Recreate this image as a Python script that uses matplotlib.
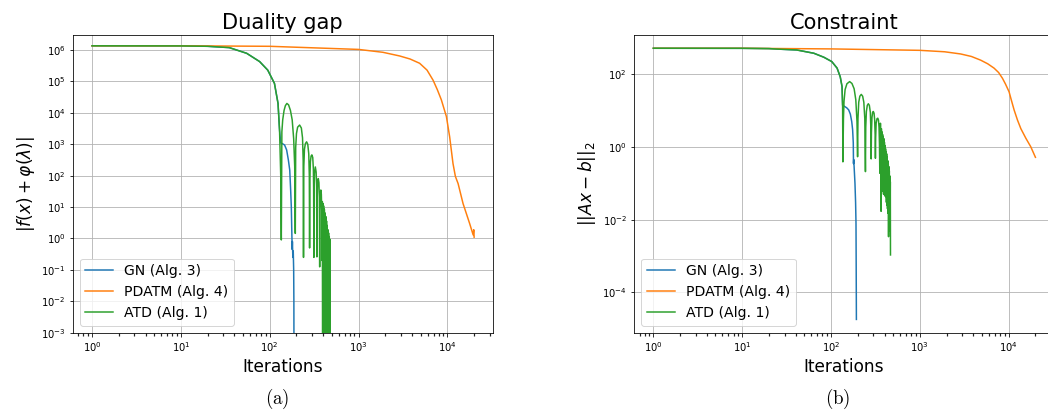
import numpy as np
import matplotlib.pyplot as plt
from matplotlib.ticker import LogLocator, NullLocator, FixedLocator

labels = ['GN (Alg. 3)', 'PDATM (Alg. 4)', 'ATD (Alg. 1)']
colors = ['#1f77b4', '#ff7f0e', '#2ca02c']

# ---- duality gap (left) ----
gn_gap_it = [1, 10, 20, 35, 55, 77, 95, 113, 124, 129, 133, 137, 147, 155, 162, 168,
             172, 175, 178, 179, 180, 182, 184, 186, 187, 188]
gn_gap = [1.37e6, 1.36e6, 1.32e6, 1.2e6, 7.9e5, 4.3e5, 2.3e5, 8.7e4, 2.0e4, 2.8e3, 1.1e3,
          1.07e3, 9.5e2, 6.6e2, 3.2e2, 1.5e2, 35, 10, 0.9, 0.45, 0.8, 0.25, 0.4, 0.1, 1e-2, 1e-6]

pd_gap_it = [1, 10, 100, 1000, 1880, 2900, 3800, 4870, 5900, 6900, 7700, 8550, 9750, 10600,
             11560, 12300, 13200, 15000, 17800, 19500, 19800, 20000]
pd_gap = [1.37e6, 1.37e6, 1.32e6, 1.05e6, 8.5e5, 6.5e5, 5.2e5, 3.8e5, 2.3e5, 1.1e5, 5.5e4,
          2.6e4, 7.6e3, 1.74e3, 2.45e2, 95, 56, 13, 3.0, 1.3, 1.9, 1.1]

atd_gap_it = [1, 10, 20, 35, 55, 77, 95, 113, 124, 129, 133, 135,
              137, 140, 145, 150, 156, 163, 171, 179, 186, 191, 194,
              196, 200, 206, 217, 227, 234, 238, 240,
              242, 246, 252, 260, 268, 275, 279, 281,
              283, 287, 292, 298, 305, 310, 312, 314,
              316, 319, 326, 333, 337, 340,
              342, 346, 352, 358, 362, 365,
              367, 371, 376, 381, 385, 388,
              391, 394, 397, 400, 404, 408, 412, 416, 420, 424, 428, 432, 436, 440,
              444, 448, 452, 456, 460, 464, 468, 472, 475, 478]
atd_gap = [1.37e6, 1.36e6, 1.32e6, 1.2e6, 7.9e5, 4.3e5, 2.3e5, 8.7e4, 2.0e4, 2.8e3, 1.0e2, 0.9,
           2.5e3, 6e3, 1.2e4, 1.7e4, 2.0e4, 1.8e4, 1.2e4, 6e3, 1.5e3, 2e2, 1.45,
           8e2, 2.2e3, 3.5e3, 4.1e3, 3.3e3, 1.6e3, 3e2, 0.25,
           2e2, 7e2, 1.05e3, 1.2e3, 1.0e3, 5e2, 1e2, 0.5,
           80, 2.8e2, 4.2e2, 4.6e2, 3.8e2, 1.6e2, 40, 0.25,
           35, 1.2e2, 1.9e2, 1.3e2, 45, 0.26,
           18, 60, 81, 60, 20, 0.125,
           8, 26, 35, 26, 8, 0.2,
           15, 1e-5, 13, 1e-5, 11, 2e-5, 8.5, 1e-5, 6.5, 1e-5, 5, 1e-5, 3.6, 1e-5,
           2.6, 1e-5, 1.9, 1e-5, 1.5, 1e-5, 1.15, 1e-5, 0.95, 1e-5]

# ---- constraint (right) ----
gn_con_it = [1, 10, 20, 27, 41, 64, 83, 102, 117, 127, 133, 135, 139, 150, 158, 165, 171,
             175, 178, 179, 180, 182, 186, 189, 191, 192, 193]
gn_con = [521, 519, 510, 490, 468, 380, 295, 224, 148, 85, 46, 14, 13.5, 12, 10.5, 8, 5,
          3, 1.3, 0.35, 0.45, 0.28, 0.1, 0.03, 0.008, 5e-4, 1.8e-5]

pd_con_it = [1, 10, 100, 1000, 1900, 2880, 3800, 4840, 5800, 6840, 7700, 8500, 9200, 10100,
             10570, 11500, 12560, 13700, 15600, 17700, 20000]
pd_con = [521, 521, 500, 457, 417, 363, 310, 245, 195, 148, 112, 78, 54, 33, 21.9, 10.5,
          5.5, 3.2, 1.74, 1.02, 0.52]

atd_con_it = [1, 10, 20, 27, 41, 64, 83, 102, 117, 127, 133, 135, 136,
              138, 140, 144, 151, 162, 172, 182, 190, 196, 199,
              201, 205, 211, 219, 227, 234, 240, 244,
              246, 250, 256, 263, 270, 277, 281, 283,
              285, 289, 294, 299, 305, 310, 314, 316,
              318, 322, 329, 336, 342, 347, 351, 354,
              356, 360, 363, 366,
              369, 372, 375, 378, 381, 384, 387, 390, 393, 396, 399, 402, 405, 408,
              411, 414, 417, 420, 423, 426, 429, 432, 435, 438, 441, 444, 447, 450,
              453, 456, 459, 462, 465, 467]
atd_con = [521, 519, 510, 490, 468, 380, 295, 224, 148, 85, 46, 13, 0.39,
           6, 18, 38, 55, 63, 56, 40, 20, 5, 0.54,
           6, 17, 25, 28, 25, 17, 6, 0.21,
           3.5, 9.5, 14, 15.5, 14, 9, 3, 0.47,
           2.5, 6.5, 9, 9.5, 8.5, 5.5, 2, 0.49,
           1.8, 4.5, 6, 6.2, 5.5, 3.5, 1.2, 0.19,
           2.2, 4.5, 2.5, 0.017,
           3.2, 0.09, 2.6, 0.06, 2.2, 0.08, 1.9, 0.05, 1.7, 0.07, 1.35, 0.045, 1.1, 0.06,
           0.9, 0.043, 0.75, 0.03, 0.65, 0.025, 0.52, 0.02, 0.42, 0.015, 0.34, 0.0034, 0.29, 0.012,
           0.22, 0.005, 0.16, 0.008, 0.11, 0.00107]

# minor x tick positions (2..9 of each decade)
minor_x = [m * 10.0 ** d for d in range(-1, 5) for m in range(2, 10)]

W, H = 1048, 410
fig = plt.figure(figsize=(W / 72, H / 72), dpi=72)
ax1 = fig.add_axes([72.7 / W, 77.3 / H, 420 / W, 298 / H])
ax2 = fig.add_axes([634 / W, 77.3 / H, 420 / W, 298 / H])

for ax, data in [(ax1, [(gn_gap_it, gn_gap), (pd_gap_it, pd_gap), (atd_gap_it, atd_gap)]),
                 (ax2, [(gn_con_it, gn_con), (pd_con_it, pd_con), (atd_con_it, atd_con)])]:
    for (it, val), lab, c in zip(data, labels, colors):
        ax.plot(it, val, color=c, lw=1.5, label=lab)
    ax.set_xscale('log')
    ax.set_yscale('log')
    ax.set_xlim(10 ** -0.218, 10 ** 4.51)
    ax.xaxis.set_major_locator(LogLocator(base=10, numticks=20))
    ax.xaxis.set_minor_locator(FixedLocator(minor_x))
    ax.tick_params(axis='x', which='minor', length=3, width=1.2, color='#222222')
    ax.grid(True)
    ax.set_xlabel('Iterations', fontsize=17)
    ax.legend(loc='lower left', fontsize=14)

ax1.set_ylim(1e-3, 10 ** 6.49)
ax1.yaxis.set_major_locator(LogLocator(base=10, numticks=20))
ax1.yaxis.set_minor_locator(NullLocator())
ax1.set_ylabel(r'$|f(x) + \varphi(\lambda)|$', fontsize=17)
ax1.set_title('Duality gap', fontsize=21)

ax2.set_ylim(10 ** -5.11, 10 ** 3.09)
ax2.set_yticks([1e-4, 1e-2, 1e0, 1e2])
ax2.yaxis.set_minor_locator(NullLocator())
ax2.set_ylabel(r'$||Ax - b||_2$', fontsize=17)
ax2.set_title('Constraint', fontsize=21)

fig.text(276.7 / W, 1 - 399 / H, r'$\mathrm{(a)}$', ha='center', va='center',
         fontsize=19, math_fontfamily='cm')
fig.text(838 / W, 1 - 399 / H, r'$\mathrm{(b)}$', ha='center', va='center',
         fontsize=19, math_fontfamily='cm')

fig.savefig('out.png', dpi=72)
